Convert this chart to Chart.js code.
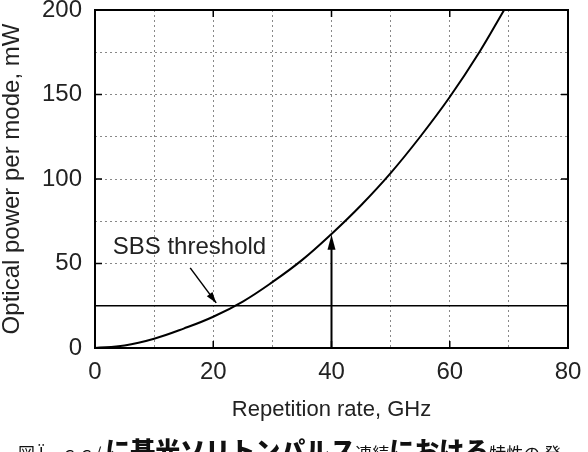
<!DOCTYPE html>
<html>
<head>
<meta charset="utf-8">
<script src="https://cdn.jsdelivr.net/npm/chart.js@4/dist/chart.umd.min.js"></script>
<style>
  html, body { margin: 0; padding: 0; background: #fff; overflow: hidden; }
  #wrap { position: relative; width: 588px; height: 452px; overflow: hidden; }
  #caption { position: absolute; left: 18px; top: 437px; white-space: nowrap; font-family: "Noto Sans CJK JP"; color: #111; line-height: 1; }
  #caption .s { font-size: 17px; }
  #caption .b { font-size: 25px; font-weight: 900; }
</style>
</head>
<body>
<div id="wrap">
  <canvas id="powerChart" width="588" height="452"></canvas>
  <div id="caption"><span class="s">図 Ï　ｃｃ/ </span><span class="b">に基光ソリトンパルス</span><span class="s">連続</span><span class="b">における</span><span class="s">特性の 発</span></div>
</div>
<script>
// curve
const rateGHz = [0, 5, 10, 15, 20, 25, 30, 35, 40, 45, 50, 55, 60, 65, 69.2];
const powerMW = [0, 1.5, 5.5, 11.5, 18.5, 27.5, 39, 52, 67.5, 84.5, 103.5, 125, 148.5, 175, 200];

const sbsThreshold = 25;
const xLabels = [0, 20, 40, 60, 80];
const yLabels = [0, 50, 100, 150, 200];

// arrow at 40 GHz and the label pointer (data units)
const markerRate = 40;
const markerPower = 67;
const labelText = "SBS threshold";
const labelAt = [3, 59.5];
const pointerFrom = [16.1, 47.4];
const pointerTo = [20.5, 26.7];

Chart.defaults.font.family = "'Liberation Sans', Arial, sans-serif";
Chart.defaults.color = "#222";

function arrowHead(ctx, x1, y1, x2, y2, len, half) {
  const ang = Math.atan2(y2 - y1, x2 - x1);
  ctx.beginPath();
  ctx.moveTo(x2, y2);
  ctx.lineTo(x2 - len * Math.cos(ang) + half * Math.sin(ang), y2 - len * Math.sin(ang) - half * Math.cos(ang));
  ctx.lineTo(x2 - len * Math.cos(ang) - half * Math.sin(ang), y2 - len * Math.sin(ang) + half * Math.cos(ang));
  ctx.closePath();
  ctx.fill();
}

const extras = {
  id: "extras",
  afterDatasetsDraw(chart) {
    const { ctx, chartArea: a, scales: { x, y } } = chart;
    ctx.save();
    ctx.strokeStyle = "#000";
    ctx.fillStyle = "#000";

    // inward tick marks on all four sides
    ctx.lineWidth = 1.5;
    ctx.beginPath();
    xLabels.forEach(v => {
      const px = x.getPixelForValue(v);
      ctx.moveTo(px, a.bottom); ctx.lineTo(px, a.bottom - 7);
      ctx.moveTo(px, a.top); ctx.lineTo(px, a.top + 7);
    });
    yLabels.forEach(v => {
      const py = y.getPixelForValue(v);
      ctx.moveTo(a.left, py); ctx.lineTo(a.left + 7, py);
      ctx.moveTo(a.right, py); ctx.lineTo(a.right - 7, py);
    });
    ctx.stroke();

    // frame
    ctx.lineWidth = 2;
    ctx.strokeRect(a.left, a.top, a.right - a.left, a.bottom - a.top);

    // vertical arrow
    const mx = x.getPixelForValue(markerRate);
    const my0 = y.getPixelForValue(0);
    const my1 = y.getPixelForValue(markerPower);
    ctx.lineWidth = 2;
    ctx.beginPath();
    ctx.moveTo(mx, my0); ctx.lineTo(mx, my1 + 10);
    ctx.stroke();
    arrowHead(ctx, mx, my0, mx, my1, 15, 4);

    // label pointer
    const fx = x.getPixelForValue(pointerFrom[0]), fy = y.getPixelForValue(pointerFrom[1]);
    const tx = x.getPixelForValue(pointerTo[0]), ty = y.getPixelForValue(pointerTo[1]);
    ctx.lineWidth = 1.5;
    ctx.beginPath();
    ctx.moveTo(fx, fy); ctx.lineTo(tx, ty);
    ctx.stroke();
    arrowHead(ctx, fx, fy, tx, ty, 11, 3.5);

    // label
    ctx.font = "24px 'Liberation Sans', Arial, sans-serif";
    ctx.fillStyle = "#222";
    ctx.textAlign = "left";
    ctx.textBaseline = "middle";
    ctx.fillText(labelText, x.getPixelForValue(labelAt[0]), y.getPixelForValue(labelAt[1]));
    ctx.restore();
  }
};

const curve = rateGHz.map((r, i) => ({ x: r, y: powerMW[i] }));
const threshold = [{ x: 0, y: sbsThreshold }, { x: 80, y: sbsThreshold }];

new Chart(document.getElementById("powerChart"), {
  type: "line",
  data: {
    datasets: [
      {
        data: curve,
        borderColor: "#000",
        borderWidth: 2,
        pointRadius: 0,
        tension: 0.4,
        fill: false,
      },
      {
        data: threshold,
        borderColor: "#000",
        borderWidth: 1.5,
        pointRadius: 0,
        fill: false,
      },
    ],
  },
  options: {
    responsive: false,
    animation: false,
    events: [],
    layout: { padding: { left: 0, right: 20, top: 10, bottom: 0 } },
    plugins: { legend: { display: false }, tooltip: { enabled: false } },
    scales: {
      x: {
        type: "linear",
        min: 0,
        max: 80,
        afterFit: s => { s.height = 104; s.paddingLeft = 0; s.paddingRight = 0; },
        ticks: {
          stepSize: 10,
          autoSkip: false,
          maxRotation: 0,
          padding: 10,
          font: { size: 24 },
          callback: v => (xLabels.includes(v) ? v : ""),
        },
        grid: { color: "#888", lineWidth: 1, drawTicks: false, borderDash: [2, 3] },
        border: { display: false, dash: [2, 3] },
        title: {
          display: true,
          text: "Repetition rate, GHz",
          font: { size: 22 },
          padding: { top: 0, bottom: 29 },
        },
      },
      y: {
        min: 0,
        max: 200,
        afterFit: s => { s.width = 95; s.paddingTop = 0; s.paddingBottom = 0; },
        ticks: {
          stepSize: 25,
          autoSkip: false,
          padding: 13,
          font: { size: 24 },
          callback: v => (yLabels.includes(v) ? v : ""),
        },
        grid: { color: "#888", lineWidth: 1, drawTicks: false, borderDash: [2, 3] },
        border: { display: false, dash: [2, 3] },
        title: {
          display: true,
          text: "Optical power per mode, mW",
          font: { size: 24, lineHeight: 1 },
          padding: { top: 0, bottom: 0 },
        },
      },
    },
  },
  plugins: [extras],
});
</script>
</body>
</html>
